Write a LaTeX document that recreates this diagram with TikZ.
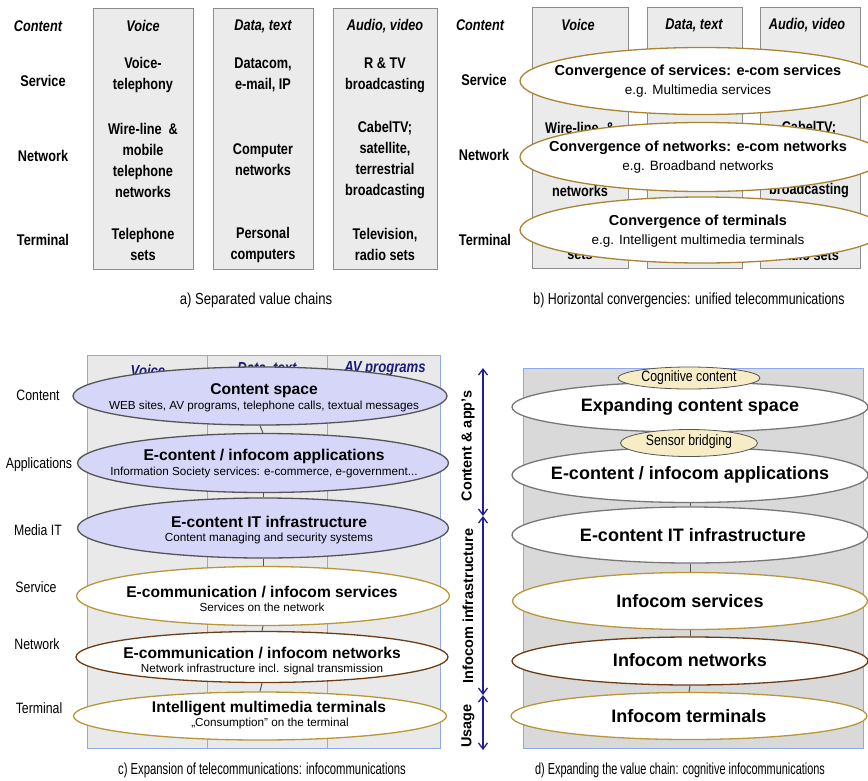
\documentclass[tikz,border=0pt]{standalone}
\usepackage{fontspec}
\setmainfont{Liberation Sans}
\newfontfamily\nar{Liberation Sans}[FakeStretch=0.82]
\usetikzlibrary{shapes.geometric,arrows.meta}
\definecolor{boxfill}{HTML}{EBEBEB}
\definecolor{boxline}{HTML}{8C8C8C}
\definecolor{cfill}{HTML}{E9E9E9}
\definecolor{dfill}{HTML}{D9D9D9}
\definecolor{lblue}{HTML}{8EA8EE}
\definecolor{lav}{HTML}{D6D6F8}
\definecolor{gold}{HTML}{B8963A}
\definecolor{brownb}{HTML}{6E3C14}
\definecolor{beige}{HTML}{F6ECC5}
\definecolor{navy}{HTML}{1A1A80}
\definecolor{arrowblue}{HTML}{1F1F9A}
\definecolor{darkg}{HTML}{555555}
\begin{document}
\begin{tikzpicture}[x=1pt,y=-1pt,
  colbox/.style={draw=boxline,fill=boxfill,line width=0.9pt,inner sep=0,anchor=north west,minimum height=261},
  ccol/.style={draw=lblue,fill=cfill,line width=0.9pt,inner sep=0,anchor=north west,minimum height=393},
  lbl/.style={font=\nar\bfseries\fontsize{15.5}{21}\selectfont,align=center,inner sep=0},
  hdr/.style={font=\nar\bfseries\itshape\fontsize{15.5}{21}\selectfont,inner sep=0},
  chdr/.style={font=\nar\bfseries\itshape\fontsize{16}{19}\selectfont,text=navy,inner sep=0},
  clbl/.style={font=\nar\fontsize{15}{18}\selectfont,inner sep=0},
  captxt/.style={font=\nar\fontsize{16}{19}\selectfont,inner sep=0},
  ell/.style={ellipse,draw,line width=1.3pt,fill=white,inner sep=0},
  btit/.style={font=\bfseries\fontsize{14.5}{17}\selectfont,inner sep=0},
  bsub/.style={font=\fontsize{13.5}{16}\selectfont,inner sep=0},
  ctit/.style={font=\bfseries\fontsize{15.6}{18}\selectfont,inner sep=0},
  csub/.style={font=\fontsize{11.7}{14}\selectfont,inner sep=0},
  dtit/.style={font=\bfseries\fontsize{18}{21}\selectfont,inner sep=0},
  smallell/.style={ellipse,draw=darkg,line width=0.8pt,fill=beige,inner sep=0},
  smltxt/.style={font=\nar\fontsize{15}{18}\selectfont,inner sep=0},
  conn/.style={draw=darkg,line width=1pt},
  rottxt/.style={font=\bfseries\fontsize{14.5}{17}\selectfont,rotate=90,inner sep=0},
  barrow/.style={draw=arrowblue,line width=1.3pt,{Straight Barb[length=6pt,width=9pt]}-{Straight Barb[length=6pt,width=9pt]}}
]
\useasboundingbox (0,0) rectangle (868,780);
\clip (0,0) rectangle (868,780);
\fill[white] (0,0) rectangle (868,780);

%% ---------- Panel a ----------
\node[colbox,minimum width=100] (a1) at (93,8) {};
\node[colbox,minimum width=100] (a2) at (213,8) {};
\node[colbox,minimum width=104] (a3) at (333,8) {};
\node[hdr] (ar0) at (38,26) {Content};
\node[lbl] (ar1) at (43,81) {Service};
\node[lbl] (ar2) at (43,156) {Network};
\node[lbl] (ar3) at (43,240) {Terminal};
\node[hdr] (av0) at (143,26) {Voice};
\node[lbl] (av1) at (143,75) {Voice-\\telephony};
\node[lbl] (av2) at (143,160) {Wire-line \ \&\\mobile\\telephone\\networks};
\node[lbl] (av3) at (143,244.5) {Telephone\\sets};
\node[hdr] (ad0) at (263,26) {Data, text};
\node[lbl] (ad1) at (263,75) {Datacom,\\e-mail, IP};
\node[lbl] (ad2) at (263,160) {Computer\\networks};
\node[lbl] (ad3) at (263,244.5) {Personal\\computers};
\node[hdr] (aa0) at (385,26) {Audio, video};
\node[lbl] (aa1) at (385,75) {R \& TV\\broadcasting};
\node[lbl] (aa2) at (385,160) {CabelTV;\\satellite,\\terrestrial\\broadcasting};
\node[lbl] (aa3) at (385,244.5) {Television,\\radio sets};
\node[captxt] (capa) at (256,300) {a) Separated value chains};

%% ---------- Panel b ----------
\node[colbox,minimum width=96] (b1) at (532,7) {};
\node[colbox,minimum width=95] (b2) at (647,7) {};
\node[colbox,minimum width=100] (b3) at (760,7) {};
\node[hdr] (br0) at (480,25) {Content};
\node[lbl] (br1) at (484,80) {Service};
\node[lbl] (br2) at (484,155) {Network};
\node[lbl] (br3) at (485,240) {Terminal};
\node[hdr] (bv0) at (578,25) {Voice};
\node[lbl] (bv2a) at (580,128) {Wire-line \ \&};
\node[lbl] (bv2d) at (580,191) {networks};
\node[lbl] (bv3b) at (580,255) {sets};
\node[hdr] (bd0) at (694,25) {Data, text};
\node[hdr] (ba0) at (807,25) {Audio, video};
\node[lbl] (ba2a) at (809,128) {CabelTV;};
\node[lbl] (ba2d) at (809,191) {broadcasting};
\node[lbl] (ba3b) at (809,255) {radio sets};
\node[ell,draw=gold!80!brownb,minimum width=364,minimum height=67] (be1) at (702,81) {};
\node[ell,draw=gold!80!brownb,minimum width=364,minimum height=69] (be2) at (702,157) {};
\node[ell,draw=gold!80!brownb,minimum width=364,minimum height=66] (be3) at (702,230) {};
\node[btit] (bt1) at (698,72) {Convergence of services: e-com services};
\node[bsub] (bs1) at (698,91) {e.g. Multimedia services};
\node[btit] (bt2) at (698,148) {Convergence of networks: e-com networks};
\node[bsub] (bs2) at (698,167) {e.g. Broadband networks};
\node[btit] (bt3) at (698,222) {Convergence of terminals};
\node[bsub] (bs3) at (698,241) {e.g. Intelligent multimedia terminals};
\node[captxt] (capb) at (689,300) {\scalebox{0.945}[1]{b) Horizontal convergencies: unified telecommunications}};

%% ---------- Panel c ----------
\node[ccol,minimum width=120] (c1) at (87,355) {};
\node[ccol,minimum width=120] (c2) at (207,355) {};
\node[ccol,minimum width=113] (c3) at (327,355) {};
\node[chdr] (ch1) at (148,371) {Voice};
\node[chdr] (ch2) at (267,369) {Data, text};
\node[chdr] (ch3) at (385,369) {AV programs};
\node[clbl] (cl1) at (38,395) {Content};
\node[clbl] (cl2) at (39,465) {Applications};
\node[clbl] (cl3) at (38,530) {Media IT};
\node[clbl] (cl4) at (36,587) {Service};
\node[clbl] (cl5) at (37,644) {Network};
\node[clbl] (cl6) at (39,708) {Terminal};
\node[ell,draw=darkg,fill=lav,minimum width=374,minimum height=58] (ce1) at (260,396) {};
\node[ell,draw=darkg,fill=lav,minimum width=371,minimum height=59] (ce2) at (263,463) {};
\node[ell,draw=darkg,fill=lav,minimum width=371,minimum height=60] (ce3) at (263,528) {};
\node[ell,draw=gold,minimum width=373,minimum height=59] (ce4) at (263,596) {};
\node[ell,draw=brownb,minimum width=372,minimum height=51] (ce5) at (262,657) {};
\node[ell,draw=gold,minimum width=373,minimum height=48] (ce6) at (260,716) {};
\draw[conn] (ce1.south) -- (ce2.north);
\draw[conn] (ce2.south) -- (ce3.north);
\draw[conn] (ce3.south) -- (ce4.north);
\draw[conn] (ce4.south) -- (ce5.north);
\draw[conn] (ce5.south) -- (ce6.north);
\node[ctit] (ct1) at (264,391) {Content space};
\node[csub] (cs1) at (264,406) {WEB sites, AV programs, telephone calls, textual messages};
\node[ctit] (ct2) at (264,456) {E-content / infocom applications};
\node[csub] (cs2) at (264,472) {Information Society services: e-commerce, e-government...};
\node[ctit] (ct3) at (269,522) {E-content IT infrastructure};
\node[csub] (cs3) at (269,538) {Content managing and security systems};
\node[ctit] (ct4) at (262,592) {E-communication / infocom services};
\node[csub] (cs4) at (262,607) {Services on the network};
\node[ctit] (ct5) at (262,653) {E-communication / infocom networks};
\node[csub] (cs5) at (262,669) {Network infrastructure incl. signal transmission};
\node[ctit] (ct6) at (269,708) {Intelligent multimedia terminals};
\node[csub] (cs6) at (270,723) {„Consumption” on the terminal};
\coordinate (ka) at (483,368);
\coordinate (kb) at (483,516);
\coordinate (kc) at (483,695);
\coordinate (kd) at (483,750);
\draw[barrow] (ka) -- (kb);
\draw[barrow] (kb) -- (kc);
\draw[barrow] (kc) -- (kd);
\node[rottxt] (r1) at (468,446) {Content \& app’s};
\node[rottxt] (r2) at (468,606) {Infocom infrastructure};
\node[rottxt] (r3) at (468,726) {Usage};
\node[captxt] (capc) at (262,770) {\scalebox{0.86}[1]{c) Expansion of telecommunications: infocommunications}};

%% ---------- Panel d ----------
\node[draw=lblue,fill=dfill,line width=0.9pt,inner sep=0,anchor=north west,minimum width=340,minimum height=380] (dbg) at (523,368) {};
\node[ell,draw=darkg!80,minimum width=356,minimum height=50] (de1) at (690,407) {};
\node[ell,draw=darkg!80,minimum width=356,minimum height=55] (de2) at (690,475) {};
\node[ell,draw=darkg!80,minimum width=356,minimum height=56] (de3) at (690,535) {};
\node[ell,draw=gold,minimum width=355,minimum height=57] (de4) at (690,601) {};
\node[ell,draw=brownb,minimum width=356,minimum height=48] (de5) at (690,661) {};
\node[ell,draw=gold,minimum width=356,minimum height=47] (de6) at (689,716) {};
\draw[conn] (de2.south) -- (de3.north);
\draw[conn] (de3.south) -- (de4.north);
\draw[conn] (de4.south) -- (de5.north);
\draw[conn] (de5.south) -- (de6.north);
\node[smallell,minimum width=142,minimum height=22] (dk1) at (689,378) {};
\node[smallell,minimum width=137,minimum height=27] (dk2) at (689,443) {};
\node[smltxt] (dks1) at (689,378) {Cognitive content};
\node[smltxt] (dks2) at (689,442) {Sensor bridging};
\node[dtit] (dt1) at (690,407) {Expanding content space};
\node[dtit] (dt2) at (690,475) {E-content / infocom applications};
\node[dtit] (dt3) at (693,535) {E-content IT infrastructure};
\node[dtit] (dt4) at (690,601) {Infocom services};
\node[dtit] (dt5) at (690,660) {Infocom networks};
\node[dtit] (dt6) at (689,716) {Infocom terminals};
\node[captxt] (capd) at (680,770) {\scalebox{0.83}[1]{d) Expanding the value chain: cognitive infocommunications}};
\end{tikzpicture}
\end{document}
